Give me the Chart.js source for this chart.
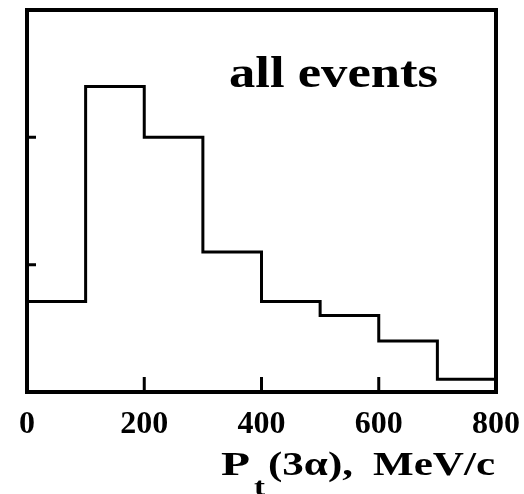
<!DOCTYPE html>
<html>
<head>
<meta charset="utf-8">
<script src="https://cdn.jsdelivr.net/npm/chart.js@4.4.0/dist/chart.umd.min.js"></script>
<style>
  html, body { margin: 0; padding: 0; background: #fff; }
  #wrap { width: 524px; height: 494px; }
</style>
</head>
<body>
<div id="wrap"><canvas id="myChart" width="524" height="494"></canvas></div>
<script>
// histogram bins (left edges, MeV/c) and heights (arbitrary units)
var binEdges = [0, 100, 200, 300, 400, 500, 600, 700];
var binWidth = 100;
var counts = [0.71, 2.40, 2.00, 1.10, 0.71, 0.60, 0.40, 0.10];
var xTicks = [0, 200, 400, 600, 800];
var yTicks = [1, 2];
var label = 'all events';

var points = binEdges.map(function (x, i) { return { x: x, y: counts[i] }; });
points.push({ x: binEdges[binEdges.length - 1] + binWidth, y: counts[counts.length - 1] });

var serif = '"Liberation Serif", "Times New Roman", serif';

// draw text stretched to span x0..x1 (the original lettering is wide)
function fitText(ctx, txt, x0, x1, y) {
    var w = ctx.measureText(txt).width;
    ctx.save();
    ctx.translate(x0, y);
    ctx.scale((x1 - x0) / w, 1);
    ctx.fillText(txt, 0, 0);
    ctx.restore();
}

var framePlugin = {
    id: 'frame',
    afterDraw: function (chart) {
        var ctx = chart.ctx;
        var a = chart.chartArea;
        var xs = chart.scales.x, ys = chart.scales.y;
        ctx.save();
        ctx.strokeStyle = '#000';
        ctx.lineWidth = 4;
        ctx.strokeRect(a.left, a.top, a.right - a.left, a.bottom - a.top);
        // inner ticks
        ctx.lineWidth = 3;
        ctx.beginPath();
        xTicks.forEach(function (v) {
            if (v <= xs.min || v >= xs.max) return;
            var px = xs.getPixelForValue(v);
            ctx.moveTo(px, a.bottom);
            ctx.lineTo(px, a.bottom - 15);
        });
        yTicks.forEach(function (v) {
            var py = ys.getPixelForValue(v);
            ctx.moveTo(a.left, py);
            ctx.lineTo(a.left + 9, py);
        });
        ctx.stroke();

        // label inside the plot
        ctx.fillStyle = '#000';
        ctx.textBaseline = 'alphabetic';
        ctx.textAlign = 'left';
        ctx.font = 'bold 44px ' + serif;
        fitText(ctx, label, 229, 438, 87);

        // x axis title with subscript
        var y = 475;
        ctx.font = 'bold 34px ' + serif;
        fitText(ctx, 'P', 221, 250, y);
        fitText(ctx, '(3\u03B1),', 268, 353, y);
        fitText(ctx, 'MeV/c', 373, 495, y);
        ctx.font = 'bold 26px ' + serif;
        fitText(ctx, 't', 254, 265, 495);
        ctx.restore();
    }
};

var ctx = document.getElementById('myChart').getContext('2d');
var myChart = new Chart(ctx, {
    type: 'line',
    data: {
        datasets: [{
            data: points,
            stepped: 'before',
            borderColor: '#000',
            borderWidth: 3,
            pointRadius: 0,
            fill: false
        }]
    },
    options: {
        responsive: false,
        animation: false,
        layout: { padding: { top: 10, right: 28, left: 0, bottom: 0 } },
        plugins: {
            legend: { display: false },
            tooltip: { enabled: false }
        },
        scales: {
            x: {
                type: 'linear',
                min: 0,
                max: 800,
                grid: { display: false, drawTicks: false },
                border: { display: false },
                afterFit: function (scale) {
                    scale.height = 102;
                    scale.paddingLeft = 0;
                    scale.paddingRight = 0;
                },
                afterBuildTicks: function (scale) {
                    scale.ticks = xTicks.map(function (v) { return { value: v }; });
                },
                ticks: {
                    padding: 14,
                    color: '#000',
                    maxRotation: 0,
                    font: { family: serif, size: 32, weight: 'bold' }
                }
            },
            y: {
                min: 0,
                max: 3,
                grid: { display: false, drawTicks: false },
                border: { display: false },
                ticks: { display: false },
                afterFit: function (scale) { scale.width = 27; }
            }
        }
    },
    plugins: [framePlugin]
});
</script>
</body>
</html>
